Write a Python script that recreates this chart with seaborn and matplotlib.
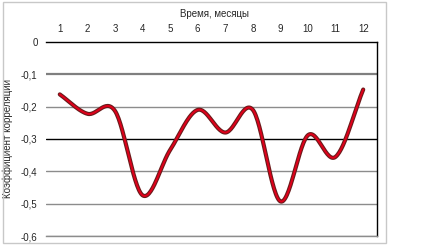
import numpy as np
import pandas as pd
import seaborn as sns
import matplotlib
matplotlib.use("Agg")
import matplotlib.pyplot as plt
import matplotlib.patheffects as pe
from matplotlib.patches import Rectangle

months = [1, 2, 3, 4, 5, 6, 7, 8, 9, 10, 11, 12]
corr = [-0.162, -0.222, -0.213, -0.474, -0.334, -0.21, -0.28, -0.21, -0.493, -0.288, -0.355, -0.147]
ytick_vals = [0, -0.1, -0.2, -0.3, -0.4, -0.5, -0.6]
ytick_labels = ["0", "-0,1", "-0,2", "-0,3", "-0,4", "-0,5", "-0,6"]
xlabel = "Время, месяцы"
ylabel = "Коэффициент корреляции"

sns.set_theme(style="white")
plt.rcParams['font.family'] = ['Liberation Sans', 'DejaVu Sans']

# Catmull-Rom smoothing of the line (rendering like Excel's smoothed line)
def smooth(xs, ys, n=30):
    xs = np.asarray(xs, float); ys = np.asarray(ys, float)
    px = np.concatenate([[2*xs[0]-xs[1]], xs, [2*xs[-1]-xs[-2]]])
    py = np.concatenate([[2*ys[0]-ys[1]], ys, [2*ys[-1]-ys[-2]]])
    ox, oy = [], []
    for i in range(1, len(px)-2):
        t = np.linspace(0, 1, n, endpoint=False)
        for arr, out in ((px, ox), (py, oy)):
            p0, p1, p2, p3 = arr[i-1], arr[i], arr[i+1], arr[i+2]
            out.extend(0.5*((2*p1) + (-p0+p2)*t + (2*p0-5*p1+4*p2-p3)*t**2 + (-p0+3*p1-3*p2+p3)*t**3))
    ox.append(xs[-1]); oy.append(ys[-1])
    return np.array(ox), np.array(oy)

sx, sy = smooth(months, corr)
df = pd.DataFrame({"x": sx, "y": sy})

fig = plt.figure(figsize=(4.36, 2.5), dpi=100)
fig.patches.append(Rectangle((3/436, 1 - 243/250), 383/436, 241/250, transform=fig.transFigure,
                             fill=False, edgecolor="#c8c8c8", linewidth=1))
ax = fig.add_axes([46/436, 1 - 236/250, 331/436, 194/250])

for v in ytick_vals[1:]:
    if v == -0.1:
        ax.axhline(v, color="#7f7f7f", linewidth=1.6, zorder=1)
    elif v == -0.3:
        ax.axhline(v, color="black", linewidth=1.0, zorder=1)
    else:
        ax.axhline(v, color="#8c8c8c", linewidth=1.0, zorder=1)

sns.lineplot(data=df, x="x", y="y", ax=ax, color="#e0001a", linewidth=1.4, sort=False,
             path_effects=[pe.Stroke(linewidth=3.0, foreground="#6b1a1a"), pe.Normal()], zorder=3)

ax.set_xlim(0.5, 12.5)
ax.set_ylim(-0.6, 0)
ax.xaxis.tick_top()
ax.xaxis.set_label_position("top")
ax.set_xticks(months)
ax.set_xticklabels([str(m) for m in months], fontsize=7)
ax.set_yticks(ytick_vals)
ax.set_yticklabels(ytick_labels, fontsize=7)
ax.tick_params(axis="both", length=0, pad=6)
ax.set_xlabel(xlabel, fontsize=7, labelpad=5)
ax.xaxis.set_label_coords(0.51, 1.13)
ax.set_ylabel(ylabel, fontsize=7, labelpad=6)

ax.spines["left"].set_visible(False)
ax.spines["top"].set_color("black"); ax.spines["top"].set_linewidth(1.0)
ax.spines["right"].set_color("black"); ax.spines["right"].set_linewidth(1.0)
ax.spines["bottom"].set_color("#8c8c8c"); ax.spines["bottom"].set_linewidth(1.0)

fig.savefig("out.png", dpi=100)
